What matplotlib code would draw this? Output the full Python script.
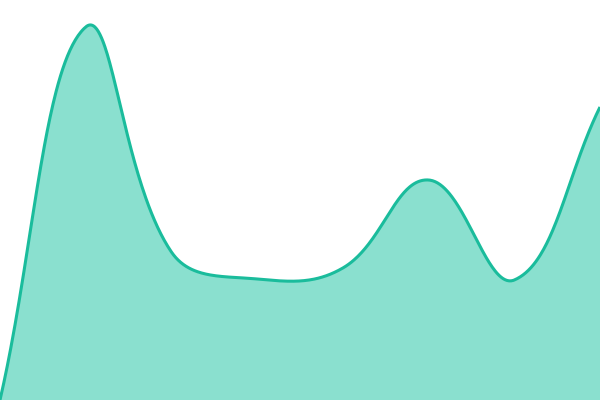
import numpy as np
import matplotlib
matplotlib.use("Agg")
import matplotlib.pyplot as plt

# data
x_idx = [0, 1, 2, 3, 4, 5, 6, 7]
values = [0, 373, 148, 121, 132, 220, 120, 293]

W, H = 600, 400
X_MAX = 7
TENSION = 0.4

def spline_curve(px, py, t=TENSION, n=80):
    P = np.column_stack([px, py]).astype(float)
    N = len(P)
    cprev = np.zeros_like(P)
    cnext = np.zeros_like(P)
    for i in range(N):
        prev = P[i - 1] if i > 0 else P[i]
        cur = P[i]
        nxt = P[i + 1] if i < N - 1 else P[i]
        d01 = np.hypot(*(cur - prev))
        d12 = np.hypot(*(nxt - cur))
        s01 = d01 / (d01 + d12) if d01 + d12 else 0
        s12 = d12 / (d01 + d12) if d01 + d12 else 0
        fa, fb = t * s01, t * s12
        cprev[i] = cur - fa * (nxt - prev)
        cnext[i] = cur + fb * (nxt - prev)
    cprev[:, 0] = np.clip(cprev[:, 0], 0, W); cprev[:, 1] = np.clip(cprev[:, 1], 0, H)
    cnext[:, 0] = np.clip(cnext[:, 0], 0, W); cnext[:, 1] = np.clip(cnext[:, 1], 0, H)
    out = []
    for i in range(N - 1):
        p1, c1, c2, p2 = P[i], cnext[i], cprev[i + 1], P[i + 1]
        tt = np.linspace(0, 1, n, endpoint=(i == N - 2))[:, None]
        seg = ((1 - tt) ** 3) * p1 + 3 * ((1 - tt) ** 2) * tt * c1 + 3 * (1 - tt) * tt ** 2 * c2 + tt ** 3 * p2
        out.append(seg)
    out = np.vstack(out)
    return out[:, 0], out[:, 1]

px = np.array(x_idx, float) * W / X_MAX
py = np.array(values, float)
sx, sy = spline_curve(px, py)
sx = sx * X_MAX / W

fig = plt.figure(figsize=(6, 4), dpi=100)
ax = fig.add_axes([0, 0, 1, 1])
ax.fill_between(sx, sy, 0, color="#8ae0cf", lw=0)
ax.plot(sx, sy, color="#1abc9c", lw=2.2, solid_capstyle="butt")
ax.set_xlim(0, X_MAX)
ax.set_ylim(0, H)
ax.axis("off")
fig.savefig("out.png", dpi=100)
